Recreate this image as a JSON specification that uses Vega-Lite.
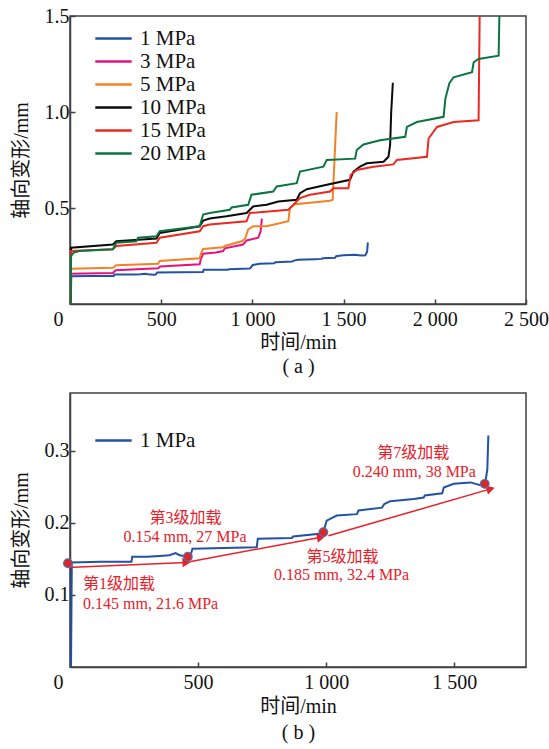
{
  "$schema": "https://vega.github.io/schema/vega-lite/v6.json",
  "padding": {"left": 10, "top": 5, "right": 10, "bottom": 5},
  "spacing": 15,
  "datasets": {
    "curves": [
      {"s":"1 MPa","t":4,"d":0},{"s":"1 MPa","t":7,"d":0.145},{"s":"1 MPa","t":120,"d":0.146},{"s":"1 MPa","t":240,"d":0.146},{"s":"1 MPa","t":243,"d":0.153},{"s":"1 MPa","t":300,"d":0.153},{"s":"1 MPa","t":349,"d":0.154},{"s":"1 MPa","t":388,"d":0.155},{"s":"1 MPa","t":412,"d":0.158},{"s":"1 MPa","t":428,"d":0.155},{"s":"1 MPa","t":460,"d":0.153},{"s":"1 MPa","t":470,"d":0.154},{"s":"1 MPa","t":478,"d":0.164},{"s":"1 MPa","t":600,"d":0.165},{"s":"1 MPa","t":729,"d":0.166},{"s":"1 MPa","t":733,"d":0.178},{"s":"1 MPa","t":866,"d":0.179},{"s":"1 MPa","t":871,"d":0.181},{"s":"1 MPa","t":983,"d":0.185},{"s":"1 MPa","t":989,"d":0.187},{"s":"1 MPa","t":994,"d":0.193},{"s":"1 MPa","t":1002,"d":0.203},{"s":"1 MPa","t":1041,"d":0.21},{"s":"1 MPa","t":1120,"d":0.212},{"s":"1 MPa","t":1126,"d":0.217},{"s":"1 MPa","t":1218,"d":0.221},{"s":"1 MPa","t":1227,"d":0.226},{"s":"1 MPa","t":1250,"d":0.23},{"s":"1 MPa","t":1342,"d":0.233},{"s":"1 MPa","t":1381,"d":0.235},{"s":"1 MPa","t":1385,"d":0.238},{"s":"1 MPa","t":1453,"d":0.241},{"s":"1 MPa","t":1459,"d":0.249},{"s":"1 MPa","t":1498,"d":0.254},{"s":"1 MPa","t":1564,"d":0.256},{"s":"1 MPa","t":1583,"d":0.254},{"s":"1 MPa","t":1603,"d":0.252},{"s":"1 MPa","t":1619,"d":0.254},{"s":"1 MPa","t":1622,"d":0.258},{"s":"1 MPa","t":1629,"d":0.274},{"s":"1 MPa","t":1633,"d":0.321},

      {"s":"3 MPa","t":3,"d":0},{"s":"3 MPa","t":6,"d":0.158},{"s":"3 MPa","t":235,"d":0.162},{"s":"3 MPa","t":250,"d":0.176},{"s":"3 MPa","t":483,"d":0.186},{"s":"3 MPa","t":495,"d":0.195},{"s":"3 MPa","t":711,"d":0.207},{"s":"3 MPa","t":718,"d":0.235},{"s":"3 MPa","t":730,"d":0.262},{"s":"3 MPa","t":800,"d":0.268},{"s":"3 MPa","t":840,"d":0.276},{"s":"3 MPa","t":849,"d":0.29},{"s":"3 MPa","t":949,"d":0.31},{"s":"3 MPa","t":968,"d":0.331},{"s":"3 MPa","t":1032,"d":0.345},{"s":"3 MPa","t":1045,"d":0.379},{"s":"3 MPa","t":1052,"d":0.445},

      {"s":"5 MPa","t":3,"d":0},{"s":"5 MPa","t":6,"d":0.184},{"s":"5 MPa","t":235,"d":0.189},{"s":"5 MPa","t":254,"d":0.202},{"s":"5 MPa","t":483,"d":0.21},{"s":"5 MPa","t":492,"d":0.224},{"s":"5 MPa","t":711,"d":0.238},{"s":"5 MPa","t":718,"d":0.262},{"s":"5 MPa","t":730,"d":0.287},{"s":"5 MPa","t":840,"d":0.296},{"s":"5 MPa","t":849,"d":0.302},{"s":"5 MPa","t":941,"d":0.327},{"s":"5 MPa","t":960,"d":0.34},{"s":"5 MPa","t":977,"d":0.388},{"s":"5 MPa","t":1004,"d":0.405},{"s":"5 MPa","t":1078,"d":0.405},{"s":"5 MPa","t":1197,"d":0.431},{"s":"5 MPa","t":1206,"d":0.5},{"s":"5 MPa","t":1233,"d":0.52},{"s":"5 MPa","t":1426,"d":0.538},{"s":"5 MPa","t":1440,"d":0.543},{"s":"5 MPa","t":1462,"d":1.0},

      {"s":"10 MPa","t":3,"d":0},{"s":"10 MPa","t":6,"d":0.293},{"s":"10 MPa","t":235,"d":0.31},{"s":"10 MPa","t":254,"d":0.327},{"s":"10 MPa","t":474,"d":0.341},{"s":"10 MPa","t":492,"d":0.37},{"s":"10 MPa","t":711,"d":0.405},{"s":"10 MPa","t":730,"d":0.434},{"s":"10 MPa","t":766,"d":0.445},{"s":"10 MPa","t":858,"d":0.457},{"s":"10 MPa","t":968,"d":0.474},{"s":"10 MPa","t":1004,"d":0.508},{"s":"10 MPa","t":1078,"d":0.517},{"s":"10 MPa","t":1142,"d":0.534},{"s":"10 MPa","t":1243,"d":0.543},{"s":"10 MPa","t":1261,"d":0.577},{"s":"10 MPa","t":1298,"d":0.598},{"s":"10 MPa","t":1408,"d":0.621},{"s":"10 MPa","t":1535,"d":0.647},{"s":"10 MPa","t":1554,"d":0.69},{"s":"10 MPa","t":1590,"d":0.715},{"s":"10 MPa","t":1627,"d":0.733},{"s":"10 MPa","t":1719,"d":0.741},{"s":"10 MPa","t":1746,"d":0.767},{"s":"10 MPa","t":1755,"d":0.828},{"s":"10 MPa","t":1761,"d":1.0},{"s":"10 MPa","t":1770,"d":1.152},

      {"s":"15 MPa","t":3,"d":0},{"s":"15 MPa","t":6,"d":0.276},{"s":"15 MPa","t":235,"d":0.285},{"s":"15 MPa","t":254,"d":0.302},{"s":"15 MPa","t":474,"d":0.319},{"s":"15 MPa","t":492,"d":0.345},{"s":"15 MPa","t":711,"d":0.379},{"s":"15 MPa","t":730,"d":0.405},{"s":"15 MPa","t":766,"d":0.414},{"s":"15 MPa","t":968,"d":0.431},{"s":"15 MPa","t":986,"d":0.474},{"s":"15 MPa","t":1197,"d":0.491},{"s":"15 MPa","t":1215,"d":0.508},{"s":"15 MPa","t":1261,"d":0.552},{"s":"15 MPa","t":1316,"d":0.569},{"s":"15 MPa","t":1426,"d":0.586},{"s":"15 MPa","t":1444,"d":0.603},{"s":"15 MPa","t":1526,"d":0.603},{"s":"15 MPa","t":1539,"d":0.672},{"s":"15 MPa","t":1572,"d":0.698},{"s":"15 MPa","t":1664,"d":0.715},{"s":"15 MPa","t":1773,"d":0.727},{"s":"15 MPa","t":1792,"d":0.75},{"s":"15 MPa","t":1957,"d":0.767},{"s":"15 MPa","t":1966,"d":0.862},{"s":"15 MPa","t":2012,"d":0.922},{"s":"15 MPa","t":2103,"d":0.948},{"s":"15 MPa","t":2240,"d":0.957},{"s":"15 MPa","t":2246,"d":1.5},

      {"s":"20 MPa","t":3,"d":0},{"s":"20 MPa","t":6,"d":0.25},{"s":"20 MPa","t":20,"d":0.268},{"s":"20 MPa","t":52,"d":0.276},{"s":"20 MPa","t":235,"d":0.285},{"s":"20 MPa","t":254,"d":0.319},{"s":"20 MPa","t":364,"d":0.327},{"s":"20 MPa","t":373,"d":0.345},{"s":"20 MPa","t":474,"d":0.353},{"s":"20 MPa","t":492,"d":0.379},{"s":"20 MPa","t":711,"d":0.405},{"s":"20 MPa","t":730,"d":0.466},{"s":"20 MPa","t":766,"d":0.474},{"s":"20 MPa","t":876,"d":0.491},{"s":"20 MPa","t":886,"d":0.503},{"s":"20 MPa","t":977,"d":0.517},{"s":"20 MPa","t":995,"d":0.569},{"s":"20 MPa","t":1114,"d":0.586},{"s":"20 MPa","t":1133,"d":0.612},{"s":"20 MPa","t":1243,"d":0.629},{"s":"20 MPa","t":1261,"d":0.69},{"s":"20 MPa","t":1389,"d":0.715},{"s":"20 MPa","t":1408,"d":0.75},{"s":"20 MPa","t":1563,"d":0.757},{"s":"20 MPa","t":1572,"d":0.802},{"s":"20 MPa","t":1609,"d":0.831},{"s":"20 MPa","t":1700,"d":0.853},{"s":"20 MPa","t":1838,"d":0.871},{"s":"20 MPa","t":1847,"d":0.922},{"s":"20 MPa","t":1902,"d":0.948},{"s":"20 MPa","t":2048,"d":0.975},{"s":"20 MPa","t":2058,"d":1.07},{"s":"20 MPa","t":2080,"d":1.15},{"s":"20 MPa","t":2103,"d":1.181},{"s":"20 MPa","t":2204,"d":1.207},{"s":"20 MPa","t":2213,"d":1.259},{"s":"20 MPa","t":2240,"d":1.276},{"s":"20 MPa","t":2350,"d":1.293},{"s":"20 MPa","t":2354,"d":1.5}
    ],
    "dots": [
      {"t":-8,"d":0.144},{"t":460,"d":0.153},{"t":989,"d":0.187},{"t":1619,"d":0.254}
    ],
    "arrows": [
      {"a":1,"t":-10,"d":0.138,"t2":455,"d2":0.145},
      {"a":2,"t":467,"d":0.146,"t2":980,"d2":0.18},
      {"a":3,"t":1009,"d":0.182,"t2":1642,"d2":0.247}
    ],
    "notes": [
      {"t":451,"d":0.206,"text":"第3级加载"},
      {"t":449,"d":0.18,"text":"0.154 mm, 27 MPa"},
      {"t":1064,"d":0.152,"text":"第5级加载"},
      {"t":1060,"d":0.128,"text":"0.185 mm, 32.4 MPa"},
      {"t":1340,"d":0.297,"text":"第7级加载"},
      {"t":1344,"d":0.271,"text":"0.240 mm, 38 MPa"}
    ],
    "notesLeft": [
      {"t":51,"d":0.115,"text":"第1级加载"},
      {"t":51,"d":0.088,"text":"0.145 mm, 21.6 MPa"}
    ]
  },
  "vconcat": [
    {
      "width": 456,
      "height": 288,
      "data": {"name": "curves"},
      "mark": {"type": "line", "strokeWidth": 2, "clip": true},
      "encoding": {
        "x": {"field": "t", "type": "quantitative", "scale": {"domain": [0, 2500], "nice": false, "zero": false},
          "axis": {"values": [0, 500, 1000, 1500, 2000, 2500], "title": ["时间/min", "( a )"], "titleLineHeight": 24, "titlePadding": 3, "labelPadding": 10,
            "labelAlign": {"condition": {"test": "datum.value === 0", "value": "right"}, "value": "center"},
            "labelOffset": {"condition": {"test": "datum.value === 0", "value": -7}, "value": 0},
            "labelExpr": "replace(format(datum.value, ','), ',', ' ')"}},
        "y": {"field": "d", "type": "quantitative", "scale": {"domain": [0, 1.5], "nice": false},
          "axis": {"values": [0.5, 1, 1.5], "format": ".1f", "title": "轴向变形/mm", "titlePadding": 13}},
        "color": {"field": "s", "type": "nominal",
          "scale": {"domain": ["1 MPa", "3 MPa", "5 MPa", "10 MPa", "15 MPa", "20 MPa"],
                    "range": ["#2152a3", "#e6117f", "#f28224", "#0a0a0a", "#ea2a20", "#0b7440"]},
          "legend": {"orient": "none", "legendX": 33, "legendY": 12, "title": null}}
      }
    },
    {
      "width": 456,
      "height": 274,
      "layer": [
        {
          "data": {"name": "curves"},
          "transform": [{"filter": "datum.s === '1 MPa'"}],
          "mark": {"type": "line", "strokeWidth": 2, "clip": true},
          "encoding": {
            "x": {"field": "t", "type": "quantitative", "scale": {"domain": [0, 1780], "nice": false, "zero": false},
              "axis": {"values": [0, 500, 1000, 1500], "title": ["时间/min", "( b )"], "titleLineHeight": 26, "titlePadding": 4, "labelPadding": 10,
                "labelAlign": {"condition": {"test": "datum.value === 0", "value": "right"}, "value": "center"},
                "labelOffset": {"condition": {"test": "datum.value === 0", "value": -7}, "value": 0},
                "labelExpr": "replace(format(datum.value, ','), ',', ' ')"}},
            "y": {"field": "d", "type": "quantitative", "scale": {"domain": [0, 0.38], "nice": false},
              "axis": {"values": [0.1, 0.2, 0.3], "format": ".1f", "title": "轴向变形/mm", "titlePadding": 13}},
            "color": {"field": "s", "type": "nominal", "scale": {"domain": ["1 MPa"], "range": ["#2152a3"]},
              "legend": {"orient": "none", "legendX": 33, "legendY": 37, "title": null}}
          }
        },
        {
          "data": {"name": "arrows"},
          "mark": {"type": "rule", "color": "#e8202a", "strokeWidth": 1.5},
          "encoding": {
            "x": {"field": "t", "type": "quantitative"},
            "y": {"field": "d", "type": "quantitative"},
            "x2": {"field": "t2"},
            "y2": {"field": "d2"}
          }
        },
        {
          "data": {"name": "arrows"},
          "transform": [{"filter": "datum.a === 1"}],
          "mark": {"type": "point", "shape": "triangle-right", "filled": true, "color": "#e8202a", "size": 90, "angle": -2.4, "opacity": 1},
          "encoding": {"x": {"field": "t2", "type": "quantitative"}, "y": {"field": "d2", "type": "quantitative"}}
        },
        {
          "data": {"name": "arrows"},
          "transform": [{"filter": "datum.a === 2"}],
          "mark": {"type": "point", "shape": "triangle-right", "filled": true, "color": "#e8202a", "size": 90, "angle": -10.6, "opacity": 1},
          "encoding": {"x": {"field": "t2", "type": "quantitative"}, "y": {"field": "d2", "type": "quantitative"}}
        },
        {
          "data": {"name": "arrows"},
          "transform": [{"filter": "datum.a === 3"}],
          "mark": {"type": "point", "shape": "triangle-right", "filled": true, "color": "#e8202a", "size": 90, "angle": -16.1, "opacity": 1},
          "encoding": {"x": {"field": "t2", "type": "quantitative"}, "y": {"field": "d2", "type": "quantitative"}}
        },
        {
          "data": {"name": "dots"},
          "mark": {"type": "point", "shape": "circle", "filled": true, "fill": "#e02424", "stroke": "#4c74b0", "strokeWidth": 1.2, "size": 75, "opacity": 1},
          "encoding": {"x": {"field": "t", "type": "quantitative"}, "y": {"field": "d", "type": "quantitative"}}
        },
        {
          "data": {"name": "notes"},
          "mark": {"type": "text", "align": "center", "baseline": "middle", "fontSize": 16, "color": "#e8202a"},
          "encoding": {"x": {"field": "t", "type": "quantitative"}, "y": {"field": "d", "type": "quantitative"}, "text": {"field": "text"}}
        },
        {
          "data": {"name": "notesLeft"},
          "mark": {"type": "text", "align": "left", "baseline": "middle", "fontSize": 16, "color": "#e8202a"},
          "encoding": {"x": {"field": "t", "type": "quantitative"}, "y": {"field": "d", "type": "quantitative"}, "text": {"field": "text"}}
        }
      ]
    }
  ],
  "resolve": {"scale": {"color": "independent", "x": "independent", "y": "independent"}, "legend": {"color": "independent"}},
  "config": {
    "font": "Liberation Serif, Noto Sans CJK SC, serif",
    "view": {"stroke": "#404040", "strokeWidth": 1.5},
    "axis": {
      "domainColor": "#404040", "domainWidth": 1.5,
      "tickColor": "#404040", "tickSize": -5, "tickWidth": 1.5,
      "labelFontSize": 20, "labelColor": "#111111", "labelPadding": 6,
      "titleFontSize": 20, "titleFontWeight": "normal", "titleColor": "#111111",
      "grid": false
    },
    "legend": {
      "symbolType": "M-2.6,0H2.6", "symbolSize": 196, "symbolStrokeWidth": 2.5, "symbolFillColor": "transparent",
      "labelFontSize": 21, "labelColor": "#111111", "labelOffset": 16, "rowPadding": 1
    }
  }
}
